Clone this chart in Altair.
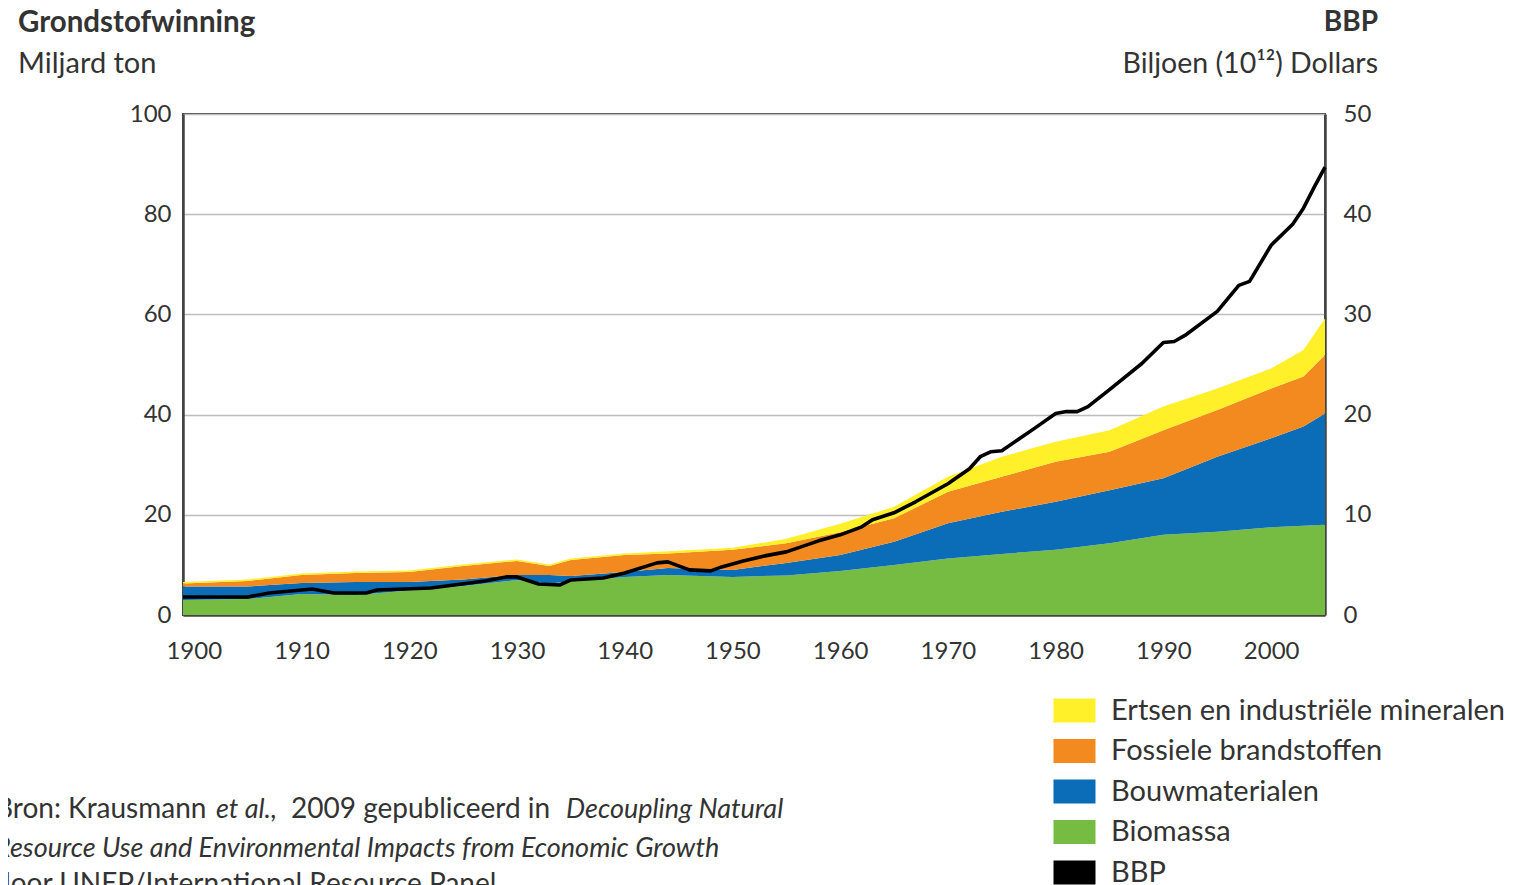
import altair as alt
import pandas as pd

# ---- data ----
years = [1899, 1905, 1910, 1915, 1920, 1925, 1930, 1933, 1935, 1940, 1944, 1950,
         1955, 1960, 1965, 1970, 1975, 1980, 1985, 1990, 1995, 2000, 2003, 2005]
biomassa = [3.0, 3.2, 4.2, 4.0, 4.9, 5.8, 7.0, 6.3, 6.7, 7.6, 8.0, 7.6,
            7.9, 8.8, 10.0, 11.3, 12.2, 13.0, 14.3, 16.0, 16.6, 17.5, 17.8, 18.0]
bouwmaterialen = [2.7, 2.5, 2.2, 2.6, 1.7, 1.3, 1.0, 1.7, 1.1, 1.0, 1.4, 1.4,
                  2.5, 3.2, 4.6, 7.0, 8.4, 9.6, 10.6, 11.3, 15.0, 17.8, 19.8, 22.2]
fossiel = [0.6, 1.1, 1.6, 1.8, 2.0, 2.7, 2.8, 1.8, 3.2, 3.4, 2.9, 4.0,
           3.9, 4.5, 4.7, 6.3, 7.0, 8.0, 7.7, 9.6, 9.3, 9.9, 10.0, 11.7]
ertsen = [0.3, 0.3, 0.3, 0.3, 0.3, 0.3, 0.3, 0.3, 0.3, 0.3, 0.4, 0.4,
          0.9, 1.7, 2.3, 3.0, 4.0, 4.0, 4.3, 4.7, 4.3, 4.0, 5.3, 7.3]

bbp_years = [1899, 1905, 1907, 1911, 1913, 1916, 1917, 1922, 1927, 1929,
             1930, 1932, 1934, 1935, 1938, 1940, 1943, 1944, 1946, 1948,
             1949, 1951, 1953, 1955, 1958, 1960, 1962, 1963, 1965, 1967,
             1970, 1972, 1973, 1974, 1975, 1978, 1980, 1981, 1982, 1983,
             1985, 1988, 1990, 1991, 1992, 1995, 1997, 1998, 2000, 2002,
             2003, 2004, 2005]
bbp = [1.8, 1.8, 2.2, 2.6, 2.2, 2.2, 2.5, 2.7, 3.4, 3.8,
       3.8, 3.1, 3.0, 3.5, 3.7, 4.2, 5.2, 5.3, 4.5, 4.4,
       4.8, 5.4, 5.9, 6.3, 7.4, 8.0, 8.8, 9.5, 10.2, 11.3,
       13.1, 14.6, 15.8, 16.3, 16.4, 18.6, 20.1, 20.3, 20.3, 20.8,
       22.5, 25.1, 27.2, 27.3, 27.9, 30.3, 32.9, 33.3, 36.9, 39.0,
       40.6, 42.7, 44.7]

categories = ["Ertsen en industriële mineralen", "Fossiele brandstoffen",
              "Bouwmaterialen", "Biomassa", "BBP"]
colors = ["#FFF02A", "#F28A1F", "#0B6DB7", "#76BC43", "#000000"]

x_ticks = list(range(1900, 2001, 10))
left_ticks = [0, 20, 40, 60, 80, 100]
right_ticks = [0, 10, 20, 30, 40, 50]

# ---- tables ----
rows = []
for order, (name, vals) in enumerate([(categories[3], biomassa),
                                       (categories[2], bouwmaterialen),
                                       (categories[1], fossiel),
                                       (categories[0], ertsen)]):
    for yr, v in zip(years, vals):
        rows.append({"jaar": yr, "waarde": v, "categorie": name, "volgorde": order})
df_area = pd.DataFrame(rows)
df_bbp = pd.DataFrame({"jaar": bbp_years, "bbp": bbp})

FONT = "Lato"
TXT = "#333333"

area = alt.Chart(df_area).mark_area().encode(
    x=alt.X("jaar:Q",
            scale=alt.Scale(domain=[1899, 2005], nice=False, zero=False),
            axis=alt.Axis(values=x_ticks, format="d", title=None, ticks=False,
                          labelFlush=False, labelPadding=24, labelFontSize=24,
                          grid=False, domainColor="#444", domainWidth=2.5)),
    y=alt.Y("waarde:Q", stack="zero",
            scale=alt.Scale(domain=[0, 100], nice=False),
            axis=alt.Axis(values=left_ticks, title=None, ticks=False,
                          labelPadding=12, labelFontSize=24, grid=True,
                          gridColor="#bdbdbd", gridWidth=1.5,
                          domainColor="#444", domainWidth=2.5)),
    color=alt.Color("categorie:N",
                    scale=alt.Scale(domain=categories, range=colors),
                    legend=alt.Legend(title=None, orient="none",
                                      legendX=877, legendY=582,
                                      symbolType="M-1.5,-0.85H1.5V0.85H-1.5Z",
                                      symbolSize=784, symbolStrokeWidth=0,
                                      symbolOpacity=1, labelFontSize=29,
                                      labelFont=FONT, labelColor=TXT,
                                      rowPadding=10.5, labelOffset=22,
                                      labelLimit=700)),
    order=alt.Order("volgorde:Q", sort="ascending"),
)

line = alt.Chart(df_bbp).mark_line(strokeWidth=3.6, strokeJoin="round").encode(
    x=alt.X("jaar:Q"),
    y=alt.Y("bbp:Q", scale=alt.Scale(domain=[0, 50], nice=False),
            axis=alt.Axis(orient="right", values=right_ticks, title=None,
                          ticks=False, labelPadding=18, labelFontSize=24,
                          grid=False, domainColor="#444", domainWidth=2.5)),
    color=alt.datum("BBP"),
)


def txt(text, x, y, align="left", size=27, weight="normal", style="normal"):
    return alt.Chart(pd.DataFrame({"t": [text]})).mark_text(
        align=align, baseline="middle", font=FONT, fontSize=size,
        fontWeight=weight, fontStyle=style, color=TXT
    ).encode(text="t:N", x=alt.value(x), y=alt.value(y))


texts = [
    txt("Grondstofwinning", -165, -91, size=29.5, weight="bold"),
    txt("Miljard ton", -165, -50, size=29),
    txt("BBP", 1195, -91, align="right", size=28, weight="bold"),
    txt("Biljoen (10¹²) Dollars", 1195, -50, align="right", size=28.5),
    txt("Bron: Krausmann", -188, 696, size=28),
    txt("et al.,", 33, 696, size=27, style="italic"),
    txt("2009 gepubliceerd in", 108, 696, size=28),
    txt("Decoupling Natural", 383, 696, size=27, style="italic"),
    txt("Resource Use and Environmental Impacts from Economic Growth", -188, 735, style="italic"),
    txt("door UNEP/International Resource Panel", -188, 771, size=28),
]

chart = alt.layer(area, line, *texts).resolve_scale(
    y="independent"
).properties(
    width=1142, height=501,
    autosize=alt.AutoSizeParams(type="none"),
    padding={"left": 175, "top": 106, "right": 180, "bottom": 275},
).configure_view(
    stroke="#444", strokeWidth=2
).configure_axis(
    labelFont=FONT, labelColor=TXT
)

chart.save("out.html", embed_options={"renderer": "svg", "actions": False})
